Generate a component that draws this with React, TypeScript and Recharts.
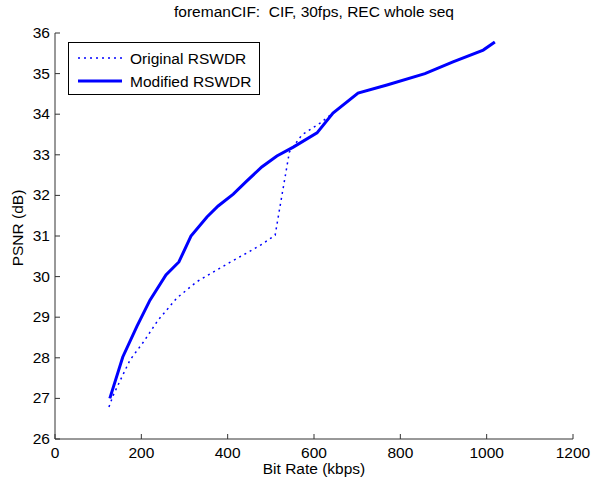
import React from 'react';
import { LineChart, Line, XAxis, YAxis } from 'recharts';

const xTicks = [0, 200, 400, 600, 800, 1000, 1200];
const yTicks = [26, 27, 28, 29, 30, 31, 32, 33, 34, 35, 36];

const originalRate = [125, 135, 155, 174, 205, 239, 282, 328, 366, 405, 444, 480, 510, 521, 533, 543, 572, 614, 644, 702, 769, 857, 922, 992, 1019];
const originalPsnr = [26.79, 27.08, 27.53, 27.95, 28.39, 28.93, 29.47, 29.87, 30.11, 30.35, 30.58, 30.8, 31.02, 31.71, 32.45, 33.07, 33.49, 33.78, 34.03, 34.52, 34.72, 35.0, 35.29, 35.58, 35.78];

const modifiedRate = [127, 157, 190, 220, 257, 287, 315, 352, 378, 413, 444, 479, 514, 552, 607, 644, 702, 769, 857, 922, 992, 1019];
const modifiedPsnr = [27.0, 28.02, 28.78, 29.42, 30.04, 30.36, 31.0, 31.47, 31.74, 32.03, 32.35, 32.7, 32.97, 33.19, 33.54, 34.03, 34.52, 34.72, 35.0, 35.29, 35.58, 35.78];

const originalData = originalRate.map((rate, i) => ({ rate, psnr: originalPsnr[i] }));
const modifiedData = modifiedRate.map((rate, i) => ({ rate, psnr: modifiedPsnr[i] }));

const FONT = '"Liberation Sans", Arial, sans-serif';
const FS = 15.5;
const AXIS = '#333333';
const BLUE = '#0000ff';

const XTick = ({ x, y, payload }: any) => (
    <g>
        <line x1={x} x2={x} y1={y} y2={y - 5} stroke={AXIS} />
        <text x={x} y={y + 19} textAnchor="middle" fontSize={FS} fontFamily={FONT} fill="#000">
            {payload.value}
        </text>
    </g>
);

const YTick = ({ x, y, payload }: any) => (
    <g>
        <line x1={x} x2={x + 5} y1={y} y2={y} stroke={AXIS} />
        <text x={x - 5} y={y + 5} textAnchor="end" fontSize={FS} fontFamily={FONT} fill="#000">
            {payload.value}
        </text>
    </g>
);

// legend drawn as an overlay so it doesn't take space from the plot
const LegendBox = () => (
    <div style={{ position: 'absolute', left: 68, top: 42, width: 192, height: 53, zIndex: 2 }}>
        <svg width={192} height={53}>
            <rect x={0.5} y={0.5} width={191} height={52} fill="#fff" stroke="#000" />
            <line x1={10} x2={54} y1={16} y2={16} stroke={BLUE} strokeWidth={1.5} strokeDasharray="2 4" />
            <text x={62} y={21.5} fontSize={FS} fontFamily={FONT}>Original RSWDR</text>
            <line x1={10} x2={54} y1={39} y2={39} stroke={BLUE} strokeWidth={3} />
            <text x={62} y={44.5} fontSize={FS} fontFamily={FONT}>Modified RSWDR</text>
        </svg>
    </div>
);

export default function App() {
    document.body.style.margin = '0';
    return (
        <div style={{ position: 'relative', width: 593, height: 483, background: '#fff' }}>
            <div style={{ position: 'absolute', top: 3, left: 55, width: 518, textAlign: 'center', fontFamily: FONT, fontSize: FS }}>
                foremanCIF:&nbsp; CIF, 30fps, REC whole seq
            </div>
            <LegendBox />
            <LineChart width={593} height={483} margin={{ top: 33, right: 20, bottom: 14, left: 0 }}>
                <XAxis
                    type="number"
                    dataKey="rate"
                    domain={[0, 1200]}
                    ticks={xTicks}
                    tickSize={0}
                    tickMargin={0}
                    tickLine={false}
                    tick={<XTick />}
                    axisLine={{ stroke: AXIS }}
                    height={30}
                    allowDataOverflow
                    label={({ viewBox }: any) => (
                        <text x={viewBox.x + viewBox.width / 2} y={viewBox.y + 35} textAnchor="middle" fontSize={FS} fontFamily={FONT}>
                            Bit Rate (kbps)
                        </text>
                    )}
                />
                <YAxis
                    type="number"
                    dataKey="psnr"
                    domain={[26, 36]}
                    ticks={yTicks}
                    tickSize={0}
                    tickMargin={0}
                    tickLine={false}
                    tick={<YTick />}
                    axisLine={{ stroke: AXIS }}
                    width={55}
                    allowDataOverflow
                    label={({ viewBox }: any) => {
                        const cx = 23;
                        const cy = viewBox.y + viewBox.height / 2 - 8;
                        return (
                            <text x={cx} y={cy} transform={`rotate(-90 ${cx} ${cy})`} textAnchor="middle" fontSize={FS} fontFamily={FONT}>
                                PSNR (dB)
                            </text>
                        );
                    }}
                />
                <Line
                    data={originalData}
                    dataKey="psnr"
                    name="Original RSWDR"
                    stroke={BLUE}
                    strokeWidth={1.5}
                    strokeDasharray="2 4"
                    dot={false}
                    isAnimationActive={false}
                />
                <Line
                    data={modifiedData}
                    dataKey="psnr"
                    name="Modified RSWDR"
                    stroke={BLUE}
                    strokeWidth={3}
                    dot={false}
                    isAnimationActive={false}
                />
            </LineChart>
        </div>
    );
}
